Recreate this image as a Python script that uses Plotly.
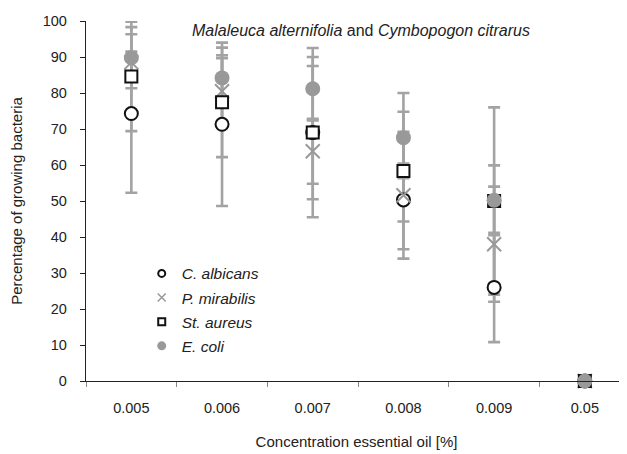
import plotly.graph_objects as go

categories = ["0.005", "0.006", "0.007", "0.008", "0.009", "0.05"]

c_albicans = [74.3, 71.3, 69.0, 50.3, 26.0, 0]
c_albicans_err = [22.0, 22.7, 18.5, 6.0, 15.2, 0]

p_mirabilis = [88.5, 80.5, 63.8, 51.6, 38.0, 0]
p_mirabilis_err = [3.0, 10.0, 9.0, 17.6, 16.0, 0]

st_aureus = [84.6, 77.4, 69.0, 58.3, 50.0, 0]
st_aureus_err = [15.2, 15.2, 23.5, 21.7, 26.0, 0]

e_coli = [89.8, 84.2, 81.2, 67.6, 50.2, 0]
e_coli_err = [8.5, 5.5, 8.8, 7.2, 9.7, 0]

series_names = ["C. albicans", "P. mirabilis", "St. aureus", "E. coli"]
series_vals = [c_albicans, p_mirabilis, st_aureus, e_coli]
series_errs = [c_albicans_err, p_mirabilis_err, st_aureus_err, e_coli_err]

ERR_COLOR = "#a3a3a3"
GRAY = "#999999"
marker_styles = [
    dict(symbol="circle", size=13, color="white", line=dict(color="#111111", width=2)),
    dict(symbol="x-thin", size=14, color=GRAY, line=dict(color=GRAY, width=2)),
    dict(symbol="square", size=12, color="white", line=dict(color="#111111", width=2)),
    dict(symbol="circle", size=15, color=GRAY, line=dict(color=GRAY, width=0)),
]
legend_styles = [
    dict(symbol="circle", size=7, color="white", line=dict(color="#111111", width=2)),
    dict(symbol="x-thin", size=8, color=GRAY, line=dict(color=GRAY, width=1.5)),
    dict(symbol="square", size=7, color="white", line=dict(color="#111111", width=2)),
    dict(symbol="circle", size=9, color=GRAY, line=dict(color=GRAY, width=0)),
]

fig = go.Figure()

# error bars first (beneath all markers)
for name, vals, errs in zip(series_names, series_vals, series_errs):
    fig.add_trace(go.Scatter(
        x=categories, y=vals, mode="markers",
        marker=dict(size=1, color="rgba(0,0,0,0)"),
        error_y=dict(type="data", array=errs, visible=True, color=ERR_COLOR,
                     thickness=2.6, width=6),
        showlegend=False, hoverinfo="skip", cliponaxis=False,
    ))

# markers
for name, vals, ms in zip(series_names, series_vals, marker_styles):
    fig.add_trace(go.Scatter(
        x=categories, y=vals, mode="markers", name=name,
        marker=ms, showlegend=False, cliponaxis=False,
    ))

# legend entries
for i, (name, ls) in enumerate(zip(series_names, legend_styles)):
    fig.add_trace(go.Scatter(
        x=[None], y=[None], mode="markers", name=name,
        marker=ls, showlegend=True, legendgroup=f"g{i}",
    ))

fig.add_annotation(
    text="<i>Malaleuca alternifolia</i> and <i>Cymbopogon citrarus</i>",
    xref="paper", yref="paper", x=0.508, y=0.975, xanchor="center", yanchor="middle",
    showarrow=False, font=dict(size=16, color="#222222"),
)

fig.update_layout(
    width=619, height=446,
    margin=dict(l=78, r=0, t=13, b=73),
    paper_bgcolor="white", plot_bgcolor="white",
    font=dict(family="Liberation Sans, Arial, sans-serif", size=14, color="#222222"),
    showlegend=True,
    legend=dict(
        x=0.103, y=0.345, xanchor="left", yanchor="top",
        font=dict(size=15.5, style="italic"), bgcolor="rgba(0,0,0,0)",
        traceorder="grouped", tracegroupgap=1, itemwidth=30,
    ),
    xaxis=dict(
        type="category", range=[-0.5, 5.465],
        showline=True, linecolor="#222222", linewidth=1.3,
        ticks="outside", tickson="boundaries", ticklen=5, tickcolor="#888888",
        showgrid=False, zeroline=False, ticklabelstandoff=13,
        tickfont=dict(size=14.5),
        title=dict(text="Concentration essential oil [%]", font=dict(size=15), standoff=21),
        automargin=False,
    ),
    yaxis=dict(
        range=[0, 100], dtick=10, tick0=0,
        showline=True, linecolor="#222222", linewidth=1.3,
        ticks="outside", ticklen=5, tickcolor="#222222",
        showgrid=False, zeroline=False, ticklabelstandoff=10,
        tickfont=dict(size=14.5),
        title=dict(text="Percentage of growing bacteria", font=dict(size=15), standoff=18),
        automargin=False,
    ),
)

fig.write_html("out.html")
